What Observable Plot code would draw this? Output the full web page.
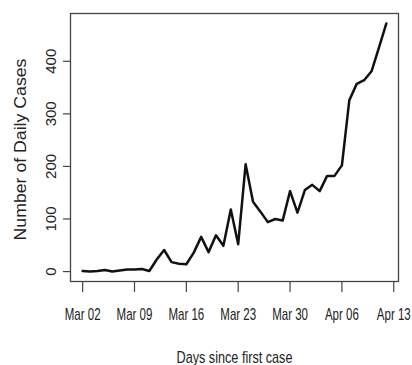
<!DOCTYPE html>
<html><head><meta charset="utf-8">
<script src="https://cdn.jsdelivr.net/npm/d3@7"></script>
<script src="https://cdn.jsdelivr.net/npm/@observablehq/plot@0.6"></script>
<style>
html,body{margin:0;padding:0;background:#fff;}
</style></head><body><div id="chart"></div>
<script>
const dates = [
  "2020-03-02","2020-03-03","2020-03-04","2020-03-05","2020-03-06","2020-03-07","2020-03-08",
  "2020-03-09","2020-03-10","2020-03-11","2020-03-12","2020-03-13","2020-03-14","2020-03-15",
  "2020-03-16","2020-03-17","2020-03-18","2020-03-19","2020-03-20","2020-03-21","2020-03-22",
  "2020-03-23","2020-03-24","2020-03-25","2020-03-26","2020-03-27","2020-03-28","2020-03-29",
  "2020-03-30","2020-03-31","2020-04-01","2020-04-02","2020-04-03","2020-04-04","2020-04-05",
  "2020-04-06","2020-04-07","2020-04-08","2020-04-09","2020-04-10","2020-04-11","2020-04-12"
];
const cases = [
  1, 0, 1, 3, 0, 2, 4,
  4, 5, 1, 23, 41, 18, 15,
  14, 36, 66, 37, 69, 49, 118,
  52, 204, 133, 114, 94, 100, 97,
  153, 112, 155, 165, 153, 182, 182,
  202, 326, 357, 364, 381, 426, 472
];
const yTicks = [0, 100, 200, 300, 400];
const xTicks = ["2020-03-02","2020-03-09","2020-03-16","2020-03-23","2020-03-30","2020-04-06","2020-04-13"];
const xTitle = "Days since first case";
const yTitle = "Number of Daily Cases";

const data = dates.map((d, i) => ({date: new Date(d), cases: cases[i]}));
const x0 = data[0].date, x1 = data[data.length - 1].date;
const xpad = 0.04 * (x1 - x0);
const ypad = 0.04 * (d3.max(cases) - d3.min(cases));
const fmt = d3.utcFormat("%b %d");

const chart = Plot.plot({
  width: 412, height: 365,
  marginLeft: 70, marginRight: 14, marginTop: 13, marginBottom: 84,
  style: {fontFamily: "'Liberation Sans', Arial, sans-serif", color: "#222", background: "#fff"},
  x: {type: "utc", domain: [new Date(+x0 - xpad), new Date(+x1 + xpad)]},
  y: {domain: [d3.min(cases) - ypad, d3.max(cases) + ypad]},
  marks: [
    Plot.frame({stroke: "#444", strokeWidth: 1.3}),
    Plot.axisX(xTicks.map(d => new Date(d)), {tickSize: 11, tickPadding: 16, tickFormat: fmt, fontSize: 16, label: null, stroke: "#444", strokeWidth: 1.2}),
    Plot.axisY(yTicks, {tickSize: 7, tickPadding: 8, tickRotate: -90, textAnchor: "middle", lineAnchor: "bottom", fontSize: 15, label: null, stroke: "#444", strokeWidth: 1.2}),
    Plot.line(data, {x: "date", y: "cases", stroke: "#111", strokeWidth: 2.5}),
    Plot.text([xTitle], {frameAnchor: "bottom", text: d => d, dy: 81, textAnchor: "middle", lineAnchor: "bottom", fontSize: 16}),
    Plot.text([yTitle], {frameAnchor: "left", text: d => d, rotate: -90, dx: -45, dy: 2, textAnchor: "middle", lineAnchor: "bottom", fontSize: 16})
  ]
});
document.getElementById("chart").append(chart);

// Horizontal glyph scaling to mimic the condensed/stretched type of the original.
const tickLabels = new Set(xTicks.map(d => fmt(new Date(d))));
d3.select(chart).selectAll("text").each(function() {
  const s = this.textContent;
  const L = this.getComputedTextLength();
  let k = null;
  if (tickLabels.has(s)) k = 0.72;
  else if (s === xTitle) k = 116 / L;
  else if (s === yTitle) k = 182 / L;
  if (k == null) return;
  const x = this.getAttribute("x"), y = this.getAttribute("y");
  let t = this.getAttribute("transform") || "";
  if (x != null && !t) {
    t = `translate(${x},${y || 0})`;
    this.removeAttribute("x");
    this.removeAttribute("y");
    this.setAttribute("transform", t + ` scale(${k},1)`);
  } else {
    this.setAttribute("transform", t + ` scale(${k},1)`);
  }
});
</script>
</body></html>
